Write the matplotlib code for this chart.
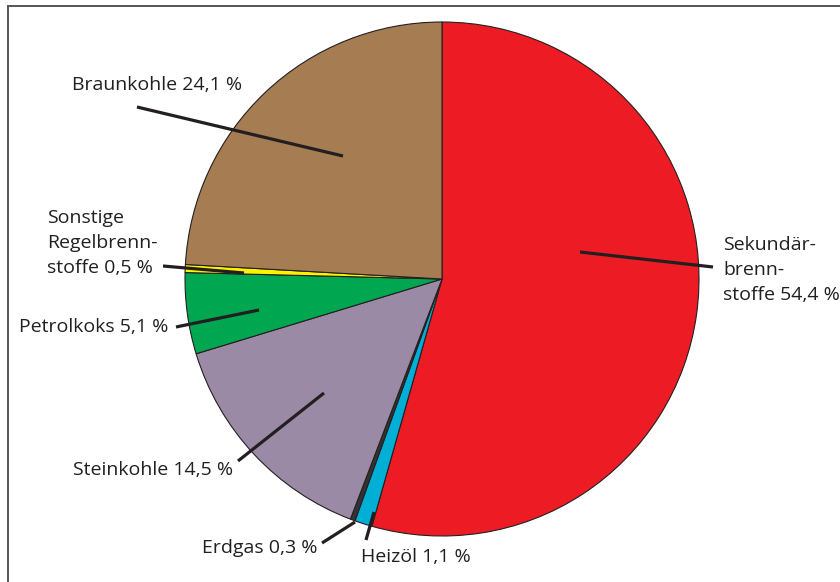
import matplotlib.pyplot as plt
from matplotlib.lines import Line2D

# Anteile der Brennstoffe (%)
labels = ["Sekundär-\nbrenn-\nstoffe 54,4 %", "Heizöl 1,1 %", "Erdgas 0,3 %",
          "Steinkohle 14,5 %", "Petrolkoks 5,1 %",
          "Sonstige\nRegelbrenn-\nstoffe 0,5 %", "Braunkohle 24,1 %"]
values = [54.4, 1.1, 0.3, 14.5, 5.1, 0.5, 24.1]
colors = ["#ed1c24", "#00aed6", "#333333", "#9b8aa5", "#00a650", "#fff200", "#a67c52"]

W, H = 840, 582
cx, cy, R = 442, 279, 257

def fig_xy(x, y):
    return x / W, 1 - y / H

def data_xy(x, y):
    return (x - cx) / R, (cy - y) / R

plt.rcParams['font.family'] = ['Open Sans', 'DejaVu Sans']
fig = plt.figure(figsize=(W / 100, H / 100), dpi=100)
ax = fig.add_axes([(cx - R) / W, (H - cy - R) / H, 2 * R / W, 2 * R / H])

ax.pie(values, colors=colors, startangle=90, counterclock=False, radius=1,
       wedgeprops=dict(edgecolor="#231f20", linewidth=0.8))
ax.set_xlim(-1, 1)
ax.set_ylim(-1, 1)
ax.set_aspect('auto')
ax.axis('off')

# Führungslinien (innen -> aussen, Pixel) und Textpositionen
leaders = [((580, 252), (713, 267)),
           ((374, 512), (366, 540)),
           ((355, 522), (322, 543)),
           ((324, 393), (238, 461)),
           ((259, 310), (176, 327)),
           ((244, 273), (163, 266)),
           ((343, 156), (137, 107))]
text_pos = [(723, 270), (361, 557), (202, 548),
            (73, 470), (19, 327), (47, 243),
            (72, 85)]

for (p_in, p_out), lab, (tx, ty) in zip(leaders, labels, text_pos):
    x0, y0 = data_xy(*p_in)
    x1, y1 = data_xy(*p_out)
    ax.plot([x0, x1], [y0, y1], color="#231f20", lw=2.3, solid_capstyle='butt',
            clip_on=False)
    fx, fy = fig_xy(tx, ty)
    fig.text(fx, fy, lab, ha='left', va='center', fontsize=14, color="#231f20",
             linespacing=1.52)

# Rahmen oben und links
fig.add_artist(Line2D([8 / W, 8 / W], [0, 1 - 6 / H], color="#555555", lw=1.4))
fig.add_artist(Line2D([8 / W, 1], [1 - 6 / H, 1 - 6 / H], color="#555555", lw=1.4))

fig.savefig("out.png", dpi=100)
